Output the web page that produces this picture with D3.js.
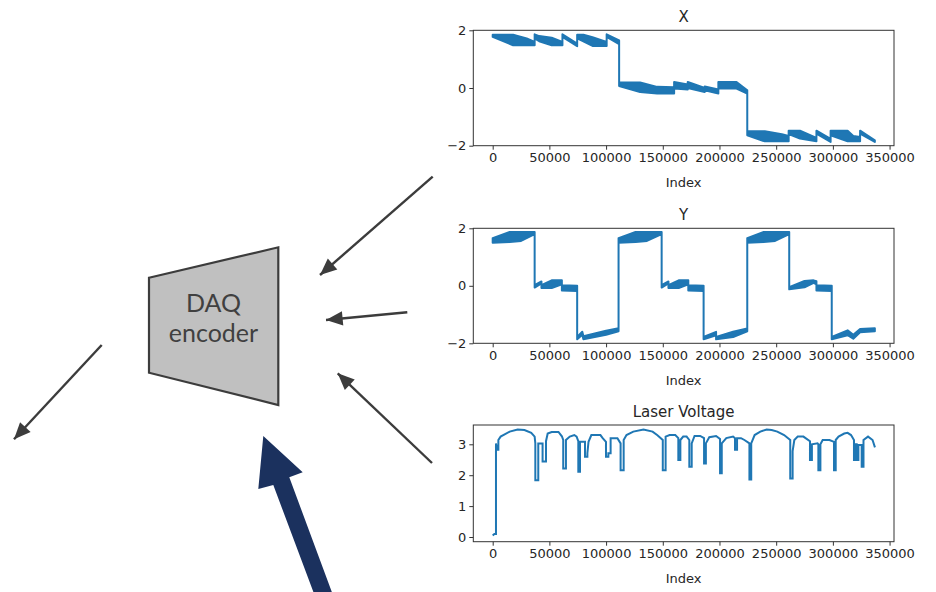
<!DOCTYPE html>
<html>
<head>
<meta charset="utf-8">
<script src="https://cdn.jsdelivr.net/npm/d3@7"></script>
<style>
  body { margin: 0; background: #fff; }
  svg { display: block; }
</style>
</head>
<body>
<svg id="fig" width="936" height="592"></svg>
<script>
// x axis ticks shared by all three panels
var indexTicks = [0, 50000, 100000, 150000, 200000, 250000, 300000, 350000];

// X signal: envelope of the dense trace (index, upper, lower)
var xIdx = [0, 18000, 30000, 37000, 37000, 41000, 52000, 61500, 61500, 74500, 74500, 80000, 88000, 100500,
            100500, 111500, 111500, 130000, 145000, 160000, 160000, 172000, 172000, 187000, 187000, 199000,
            199000, 215000, 224500, 224500, 240000, 255000, 261000, 261000, 271000, 285500, 285500, 298000,
            298000, 313000, 318000, 324000, 324000, 337000];
var xHi = [1.85, 1.85, 1.72, 1.60, 1.86, 1.80, 1.74, 1.60, 1.86, 1.54, 1.85, 1.85, 1.76, 1.60,
           1.86, 1.65, 0.19, 0.19, 0.04, 0.03, 0.21, 0.12, 0.21, 0.00, 0.05, -0.05,
           0.21, 0.21, -0.08, -1.50, -1.50, -1.60, -1.66, -1.48, -1.48, -1.73, -1.48, -1.76,
           -1.48, -1.48, -1.66, -1.70, -1.48, -1.81];
var xLo = [1.77, 1.48, 1.48, 1.48, 1.72, 1.62, 1.48, 1.48, 1.77, 1.45, 1.72, 1.62, 1.46, 1.46,
           1.77, 1.52, 0.07, -0.14, -0.19, -0.19, -0.02, -0.05, 0.00, -0.14, -0.08, -0.19,
           -0.02, -0.02, -0.19, -1.64, -1.85, -1.85, -1.85, -1.60, -1.75, -1.85, -1.58, -1.87,
           -1.64, -1.85, -1.85, -1.85, -1.58, -1.87];

// Y signal: envelope of the dense trace
var yIdx = [0, 15000, 25000, 37000, 37000, 43000, 43000, 52000, 61000, 61000, 74500, 74500, 79000, 80000,
            100000, 111000, 111000, 126000, 136000, 149000, 149000, 155000, 155000, 164000, 172500, 172500,
            186000, 186000, 197000, 197000, 212000, 224500, 224500, 239000, 249000, 261500, 261500, 275000,
            283000, 285500, 285500, 299000, 299000, 313000, 318000, 324000, 337000];
var yHi = [1.66, 1.87, 1.87, 1.87, 0.02, 0.15, 0.02, 0.19, 0.19, 0.02, 0.00, -1.78, -1.60, -1.75,
           -1.56, -1.48, 1.66, 1.87, 1.87, 1.87, 0.02, 0.15, 0.02, 0.19, 0.19, 0.02,
           0.00, -1.78, -1.60, -1.78, -1.60, -1.48, 1.66, 1.87, 1.87, 1.87, -0.05, 0.17,
           0.19, 0.16, 0.02, 0.00, -1.78, -1.55, -1.70, -1.50, -1.48];
var yLo = [1.50, 1.52, 1.56, 1.80, -0.06, 0.08, -0.08, -0.08, 0.05, -0.16, -0.18, -1.86, -1.70, -1.86,
           -1.70, -1.58, 1.50, 1.52, 1.56, 1.80, -0.06, 0.08, -0.08, -0.08, 0.05, -0.16,
           -0.18, -1.86, -1.72, -1.86, -1.78, -1.58, 1.50, 1.52, 1.56, 1.80, -0.12, -0.05,
           0.10, 0.05, -0.16, -0.18, -1.86, -1.72, -1.84, -1.62, -1.58];

// Laser voltage trace
var laserIdx = [0, 1500, 2900, 2900, 4000, 5000, 5000, 7000, 15000, 22000, 28000, 34000, 37000, 37600, 37600,
  40200, 40200, 44000, 44000, 47000, 47000, 48500, 52000, 58000, 61000, 62200, 62200, 64600, 64600, 68000,
  72000, 74000, 75500, 75500, 77000, 77000, 81400, 81400, 83500, 83500, 84500, 87000, 95000, 97000, 99900,
  99900, 102000, 102000, 104000, 104000, 110000, 112800, 112800, 115500, 115500, 118000, 124000, 133000,
  141000, 145000, 150000, 150000, 152500, 152500, 156000, 161000, 163700, 163700, 165500, 165500, 168000,
  171000, 173400, 173400, 175500, 175500, 178000, 183000, 186400, 186400, 188000, 188000, 191000, 197000,
  200500, 200500, 202000, 202000, 206000, 212000, 213700, 213700, 215500, 215500, 219000, 222000, 226400,
  226400, 228000, 228000, 231000, 236000, 241600, 246000, 251000, 257000, 262400, 262400, 264500, 264500,
  266000, 269000, 274000, 279800, 279800, 281500, 281500, 286500, 287200, 287200, 289000, 289000, 291000,
  297000, 301000, 301000, 302500, 302500, 305000, 310000, 313000, 316000, 318600, 318600, 320000, 320000,
  321000, 321000, 322500, 322500, 325400, 325400, 327000, 327000, 331000, 335000, 337100];
var laserV = [0.05, 0.10, 0.10, 3.03, 2.82, 2.82, 3.14, 3.25, 3.41, 3.48, 3.46, 3.37, 3.25, 3.03, 1.84,
  1.84, 3.03, 3.03, 2.44, 2.44, 3.10, 3.35, 3.40, 3.40, 3.26, 3.14, 2.22, 2.22, 3.14, 3.25,
  3.30, 3.25, 3.10, 2.11, 2.11, 3.08, 3.08, 2.60, 2.60, 2.71, 3.08, 3.30, 3.30, 3.20, 3.08,
  2.60, 2.60, 2.71, 2.71, 3.20, 3.20, 3.03, 2.16, 2.16, 3.14, 3.30, 3.41, 3.48,
  3.41, 3.30, 3.14, 2.16, 2.16, 3.25, 3.30, 3.30, 3.20, 2.49, 2.49, 3.14, 3.25,
  3.25, 3.14, 2.27, 2.27, 3.03, 3.27, 3.27, 3.20, 2.38, 2.38, 3.03, 3.23, 3.27,
  3.17, 2.06, 2.06, 3.03, 3.20, 3.25, 3.20, 2.82, 2.82, 3.20, 3.20, 3.14, 3.03,
  1.86, 1.86, 3.03, 3.30, 3.41, 3.48, 3.46, 3.41, 3.30, 3.14, 1.89, 1.89, 2.78,
  3.14, 3.25, 3.25, 3.10, 2.49, 2.49, 3.00, 3.03, 3.00, 2.16, 2.16, 3.00, 3.14,
  3.14, 3.08, 2.16, 2.16, 3.14, 3.25, 3.35, 3.37, 3.30, 3.14, 2.49, 2.49, 3.00,
  3.00, 2.49, 2.49, 2.98, 2.98, 2.27, 2.27, 3.14, 3.25, 3.14, 2.90];

var blue = "#1f77b4";
var svg = d3.select("#fig");

// ---------- plot panels ----------
var left = 473.3, right = 894;
var x = d3.scaleLinear().domain([-17100, 353900]).range([left, right]);

function panel(top, bottom, title, yDomain, yTicks) {
    var y = d3.scaleLinear().domain(yDomain).range([bottom, top]);
    var g = svg.append("g");

    var xAxis = g.append("g").attr("transform", "translate(0," + bottom + ")")
        .call(d3.axisBottom(x).tickValues(indexTicks).tickSize(4).tickPadding(3).tickFormat(d3.format("d")));
    var yAxis = g.append("g").attr("transform", "translate(" + left + ",0)")
        .call(d3.axisLeft(y).tickValues(yTicks).tickSize(4).tickPadding(3).tickFormat(function(d) { return d < 0 ? "\u2212" + (-d) : d; }));
    [xAxis, yAxis].forEach(function(a) {
        a.select(".domain").remove();
        a.selectAll("line").attr("stroke", "#333");
        a.selectAll("text").attr("font-family", "DejaVu Sans").attr("font-size", 13).attr("fill", "#262626");
    });

    g.append("rect").attr("x", left).attr("y", top)
        .attr("width", right - left).attr("height", bottom - top)
        .attr("fill", "none").attr("stroke", "#333").attr("stroke-width", 1);

    g.append("text").text(title)
        .attr("x", (left + right) / 2).attr("y", top - 8.5)
        .attr("text-anchor", "middle").attr("font-family", "DejaVu Sans")
        .attr("font-size", 15).attr("fill", "#262626");
    g.append("text").text("Index")
        .attr("x", (left + right) / 2).attr("y", bottom + 41.5)
        .attr("text-anchor", "middle").attr("font-family", "DejaVu Sans")
        .attr("font-size", 13).attr("fill", "#262626");
    return { g: g, y: y };
}

function band(p, idx, hi, lo) {
    var area = d3.area()
        .x(function(i) { return x(idx[i]); })
        .y0(function(i) { return p.y(lo[i]); })
        .y1(function(i) { return p.y(hi[i]); });
    p.g.append("path").datum(d3.range(idx.length))
        .attr("d", area)
        .attr("fill", blue).attr("stroke", blue)
        .attr("stroke-width", 2).attr("stroke-linejoin", "round");
}

var pX = panel(30.3, 145.7, "X", [-2, 2], [-2, 0, 2]);
band(pX, xIdx, xHi, xLo);

var pY = panel(228.3, 343.3, "Y", [-2, 2], [-2, 0, 2]);
band(pY, yIdx, yHi, yLo);

var pL = panel(425, 541.7, "Laser Voltage", [-0.152, 3.625], [0, 1, 2, 3]);
var line = d3.line()
    .x(function(i) { return x(laserIdx[i]); })
    .y(function(i) { return pL.y(laserV[i]); });
pL.g.append("path").datum(d3.range(laserIdx.length))
    .attr("d", line).attr("fill", "none")
    .attr("stroke", blue).attr("stroke-width", 2);

// ---------- diagram on the left ----------
svg.append("defs").append("marker")
    .attr("id", "head").attr("markerUnits", "userSpaceOnUse")
    .attr("markerWidth", 20).attr("markerHeight", 20)
    .attr("viewBox", "-16 -8 18 16").attr("refX", 0).attr("refY", 0)
    .attr("orient", "auto")
    .append("path").attr("d", "M0,0 L-15,-6.5 L-15,6.5 Z").attr("fill", "#3c3c3c");

svg.append("polygon")
    .attr("points", "149,277.7 278.3,247.3 278.3,405 149,372.7")
    .attr("fill", "#c0c0c0").attr("stroke", "#3c3c3c").attr("stroke-width", 2.2);

svg.append("text").text("DAQ").attr("x", 213.5).attr("y", 312)
    .attr("text-anchor", "middle").attr("font-family", "Lato")
    .attr("font-size", 25).attr("fill", "#404040");
svg.append("text").text("encoder").attr("x", 213.5).attr("y", 342)
    .attr("text-anchor", "middle").attr("font-family", "Lato")
    .attr("font-size", 25).attr("fill", "#404040");

var arrows = [
    [432.7, 176.7, 320, 275],
    [407.3, 312.3, 326, 320],
    [432, 463, 337.7, 373.3],
    [101.7, 345, 14, 439.3]
];
arrows.forEach(function(a) {
    svg.append("line")
        .attr("x1", a[0]).attr("y1", a[1]).attr("x2", a[2]).attr("y2", a[3])
        .attr("stroke", "#3c3c3c").attr("stroke-width", 2.4)
        .attr("marker-end", "url(#head)");
});

// big navy arrow
svg.append("polygon")
    .attr("points", "263.3,436 302.7,472.3 289.3,477.3 334.8,600 316.4,600 273.3,485 258.3,489")
    .attr("fill", "#1b315e");
</script>
</body>
</html>
